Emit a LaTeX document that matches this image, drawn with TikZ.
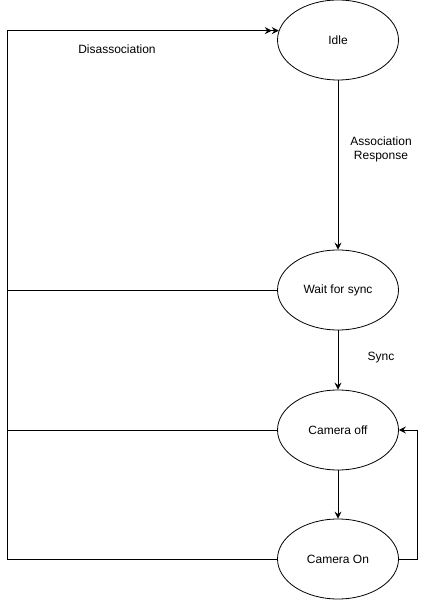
\documentclass[tikz,border=0pt]{standalone}
\usepackage{fontspec}
\setmainfont{Liberation Sans}
\usetikzlibrary{arrows.meta,shapes.geometric}

\begin{document}
\begin{tikzpicture}[x=1pt, y=-1pt,
	state/.style = {ellipse, draw, line width=0.8pt, minimum width=121pt, minimum height=80pt, inner sep=0pt, font=\fontsize{12}{14}\selectfont},
	edge/.style = {line width=1pt, -{Stealth[length=7pt, width=7pt, inset=2.5pt]}},
	plain/.style = {line width=1pt},
	tag/.style = {font=\fontsize{12}{14}\selectfont, align=center}]
	\useasboundingbox (0,0) rectangle (426,601);
	
	\node[state] (idle) at (338,40) {Idle};
	\node[state] (wait) at (338,290) {Wait for sync};
	\node[state] (camoff) at (338,430) {Camera off};
	\node[state] (camon) at (338,559) {Camera On};
	\coordinate (corner) at (7,31);
	
	\draw[edge] (idle) -- (wait);
	\draw[edge] (wait) -- (camoff);
	\draw[edge] (camoff) -- (camon);
	\draw[edge] (camon.east) -- ++(19,0) |- (camoff.east);
	
	\draw[plain, -{Stealth[length=7pt, width=7pt, inset=2.5pt] Stealth[length=7pt, width=7pt, inset=2.5pt]}] (camon.west) -- (camon.west -| corner) |- (idle.171);
	\draw[plain] (wait.west) -- (wait.west -| corner);
	\draw[plain] (camoff.west) -- (camoff.west -| corner);
	
	\node[tag] (disassoc) at (117,49) {Disassociation};
	\node[tag] (assoc) at (381,149) {Association\\Response};
	\node[tag] (sync) at (381,358) {Sync};
\end{tikzpicture}
\end{document}
